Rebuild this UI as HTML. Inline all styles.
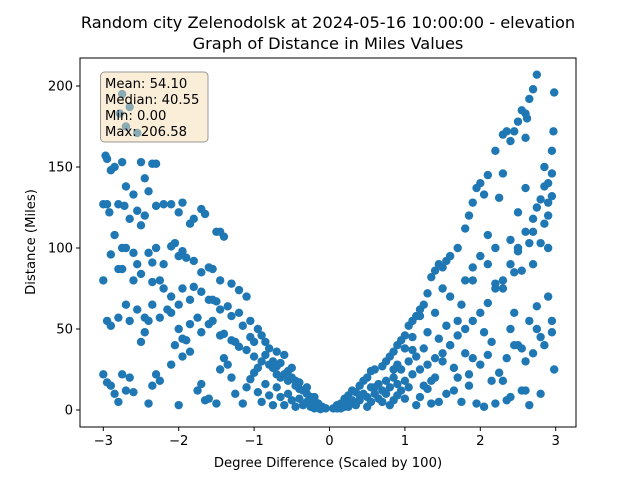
<!DOCTYPE html>
<html><head><meta charset="utf-8"><style>
body{margin:0;background:#fff}
svg text{font-family:"DejaVu Sans","Liberation Sans",sans-serif;fill:#000}
</style></head><body>
<svg id="chart" width="640" height="480" viewBox="0 0 640 480" xmlns="http://www.w3.org/2000/svg">
<rect x="0" y="0" width="640" height="480" fill="#fff"/>
<text x="328" y="28" font-size="16.2" text-anchor="middle">Random city Zelenodolsk at 2024-05-16 10:00:00  - elevation</text>
<text x="328" y="49" font-size="16.2" text-anchor="middle">Graph of Distance in Miles Values</text>
<g id="points"></g>
<g id="axes"></g>
<rect x="80" y="58" width="496" height="369" fill="none" stroke="#000" stroke-width="1"/>
<text x="328" y="467" font-size="13.2" text-anchor="middle">Degree Difference (Scaled by 100)</text>
<text x="35" y="242" font-size="13.2" text-anchor="middle" transform="rotate(-90 35 242)">Distance (Miles)</text>
<g>
<rect x="100.5" y="72" width="107.5" height="70" rx="4" fill="#f5deb3" fill-opacity="0.5" stroke="#808080" stroke-opacity="0.8"/>
<text x="105" y="88" font-size="13.2">Mean: 54.10</text>
<text x="105" y="104" font-size="13.2">Median: 40.55</text>
<text x="105" y="120" font-size="13.2">Min: 0.00</text>
<text x="105" y="136" font-size="13.2">Max: 206.58</text>
</g>
</svg>
<script>
const xTicks=[-3,-2,-1,0,1,2,3];
const yTicks=[0,50,100,150,200];
const xsLeft=[-3,-2.97,-2.95,-2.9,-2.85,-2.75,-2.7,-2.6,-2.5,-2.45,-2.4,-2.35,-2.3,-2.8,-2.78,-2.75,-2.7,-2.65,-2.55,
-2.95,-2.92,-2.72,-2.65,-2.5,-2.55,-2.45,-2.3,-2.2,-2.1,-2.0,-1.95,-1.85,-1.8,-1.7,-1.65,-1.5,-1.45,-1.4,
-2.85,-2.75,-2.7,-2.6,-2.55,-2.4,-2.3,-2.2,-2.1,-2.05,-2.0,-1.95,-1.9,-1.8,-1.7,-1.6,-1.55,-1.45,-1.3,-1.2,-1.1,
-3.0,-2.9,-2.8,-2.75,-2.6,-2.5,-2.35,-2.35,-2.25,-2.2,-2.1,-2.0,-1.95,-1.8,-1.85,-1.7,-1.6,-1.55,-1.5,-1.45,-1.35,-1.3,-1.2,-1.15,-1.05,-0.95,-0.9,-0.85,-0.8,-0.7,-0.6,-0.5,
-2.95,-2.9,-2.8,-2.7,-2.65,-2.55,-2.45,-2.4,-2.35,-2.25,-2.15,-2.1,-2.0,-1.95,-1.85,-1.75,-1.7,-1.6,-1.55,-1.45,-1.4,-1.3,-1.25,-1.2,-1.1,-1.05,-1.0,-0.9,-0.8,-0.75,-0.7,-0.65,-0.55,-0.45,-0.4,-0.3,-0.25,-0.2,-0.15,-0.1,-0.05,
-3.0,-2.95,-2.9,-2.85,-2.8,-2.75,-2.7,-2.65,-2.6,-2.5,-2.45,-2.4,-2.35,-2.3,-2.25,-2.1,-2.05,-2.0,-1.95,-1.9,-1.85,-1.75,-1.7,-1.65,-1.6,-1.5,-1.45,-1.4,-1.35,-1.3,-1.25,-1.15,-1.1,-1.05,-1.0,-0.95,-0.95,-0.9,-0.85,-0.8,-0.75,-0.7,-0.65,-0.6,-0.55,-0.5,-0.45,-0.4,-0.35,-0.3,-0.25,-0.2,-0.15,-0.12,-0.6,-0.55,-0.5,-0.45,-0.75,-0.85,-1.0,-0.7,-0.65,-0.4,-0.35,-0.3,-0.2];
const ysLeft=[127,157,155,148,150,153,138,133,153,143,135,152,152,127,183,195,175,187,171,
127,122,126,118,114,123,120,126,127,127,122,128,115,118,124,121,110,110,107,
108,100,100,97,90,97,100,90,101,103,95,98,94,92,85,88,87,80,78,74,70,
80,96,87,87,80,84,91,79,80,75,70,65,75,76,68,73,68,68,67,62,64,58,60,52,55,50,46,42,38,36,34,26,
55,52,57,65,55,62,57,55,65,57,62,60,50,44,53,57,48,53,55,46,47,43,42,39,37,45,33,30,28,26,22,20,18,15,13,10,8,6,4,2,1,
22,17,15,10,5,22,12,20,11,42,48,4,15,22,18,28,40,3,33,43,36,12,16,6,7,4,25,32,28,20,10,4,14,19,23,26,11,5,16,9,3,14,8,3,10,6,2,7,3,5,2,1,3,0.5,22,24,20,18,30,34,42,27,29,17,12,14,8];
const xsRight=[0.05,0.1,0.15,0.2,0.25,0.3,0.35,0.4,0.45,0.5,0.55,0.6,0.7,0.75,0.8,0.85,0.9,0.95,1.0,1.05,1.1,1.15,1.2,1.25,1.3,1.35,1.4,1.45,1.5,1.55,1.6,1.7,1.8,1.85,1.9,1.95,2.0,2.05,2.1,2.2,2.3,2.35,2.4,2.5,2.55,2.6,2.65,2.7,2.75,2.62,
0.1,0.2,0.3,0.4,0.5,0.6,0.7,0.8,0.9,1.0,1.1,1.2,1.3,1.4,1.5,1.6,1.7,1.8,1.9,2.0,2.1,2.2,2.3,2.4,2.5,2.6,2.7,2.8,2.9,2.95,2.85,2.75,
0.2,0.35,0.5,0.6,0.7,0.8,0.9,1.0,1.05,1.1,1.15,1.2,1.3,1.35,1.4,1.45,1.5,1.6,1.65,1.7,1.8,1.85,1.9,1.95,2.0,2.05,2.1,2.15,2.2,2.25,2.3,2.4,2.45,2.5,2.55,2.6,2.65,2.7,2.75,2.8,2.85,2.9,2.9,2.95,2.95,2.98,2.8,2.6,2.4,2.3,2.2,2.1,2.0,1.9,1.8,1.7,1.6,1.5,1.4,1.3,1.2,1.1,1.0,0.95,0.85,0.75,0.65,0.55,0.45,0.4,0.3,2.5,2.6,2.55,2.7,2.8,2.9,2.95,2.97,2.98,2.85,2.6,2.45,2.3,2.25,2.4,2.45,2.2,2.1,1.9,1.75,1.55,1.45,1.25,1.15,0.9,0.85,1.35,1.55,1.75,2.05,2.35,2.55,0.25,0.15,0.55,0.65,0.75,0.85,0.95,1.05,1.25,1.65,1.85,2.15,2.35,2.45,2.65,2.75,2.5,2.65,2.7,2.85,2.9,2.95];
const ysRight=[1,3,4,7,9,12,11,15,18,20,24,25,27,30,33,36,40,43,46,52,55,58,62,65,72,82,86,90,88,92,95,100,112,120,128,137,140,133,145,160,170,172,166,178,185,183,192,198,207,180,
1,2,4,6,8,10,12,14,16,18,22,25,28,32,35,40,46,50,55,60,66,75,80,90,100,110,118,130,140,146,138,125,
5,3,2,14,5,3,9,7,30,37,3,8,13,4,20,5,30,40,26,20,35,15,32,4,28,48,34,42,4,23,18,50,60,40,38,12,3,35,64,45,40,100,70,55,48,25,10,30,8,75,78,90,95,88,80,55,70,75,60,48,58,45,38,25,20,18,16,14,10,9,6,122,137,86,90,103,120,160,172,196,150,168,172,146,131,105,85,100,108,80,65,52,44,38,33,28,25,18,10,5,2,6,12,2,1,5,7,10,6,12,14,15,12,22,18,32,40,55,50,98,103,110,115,128,132];
const xs=xsLeft.concat(xsRight), ys=ysLeft.concat(ysRight);
const X0=80,X1=576,Y0=58,Y1=427;
const sx=v=>329.5+v*75.4;
const sy=v=>410-v*1.62;
const NS='http://www.w3.org/2000/svg';
const pts=document.getElementById('points');
for(let i=0;i<xs.length;i++){
  const c=document.createElementNS(NS,'circle');
  c.setAttribute('cx',sx(xs[i]));c.setAttribute('cy',sy(ys[i]));c.setAttribute('r',4.2);c.setAttribute('fill','#1f77b4');
  
  
  pts.appendChild(c);
}
const ax=document.getElementById('axes');
xTicks.forEach(t=>{
  const l=document.createElementNS(NS,'line');
  l.setAttribute('x1',sx(t));l.setAttribute('x2',sx(t));l.setAttribute('y1',Y1);l.setAttribute('y2',Y1+4);l.setAttribute('stroke','#000');
  
  
  ax.appendChild(l);
  const tx=document.createElementNS(NS,'text');
  tx.setAttribute('x',sx(t));tx.setAttribute('y',Y1+18);tx.setAttribute('font-size','13.2');tx.setAttribute('text-anchor','middle');
  tx.textContent=(t<0?'\u2212'+(-t):t);
  
  
  ax.appendChild(tx);
});
yTicks.forEach(t=>{
  const l=document.createElementNS(NS,'line');
  l.setAttribute('x1',X0-4);l.setAttribute('x2',X0);l.setAttribute('y1',sy(t));l.setAttribute('y2',sy(t));l.setAttribute('stroke','#000');
  
  
  ax.appendChild(l);
  const tx=document.createElementNS(NS,'text');
  tx.setAttribute('x',X0-7);tx.setAttribute('y',sy(t)+4.5);tx.setAttribute('font-size','13.2');tx.setAttribute('text-anchor','end');
  tx.textContent=t;
  
  
  ax.appendChild(tx);
});
</script>
</body></html>
